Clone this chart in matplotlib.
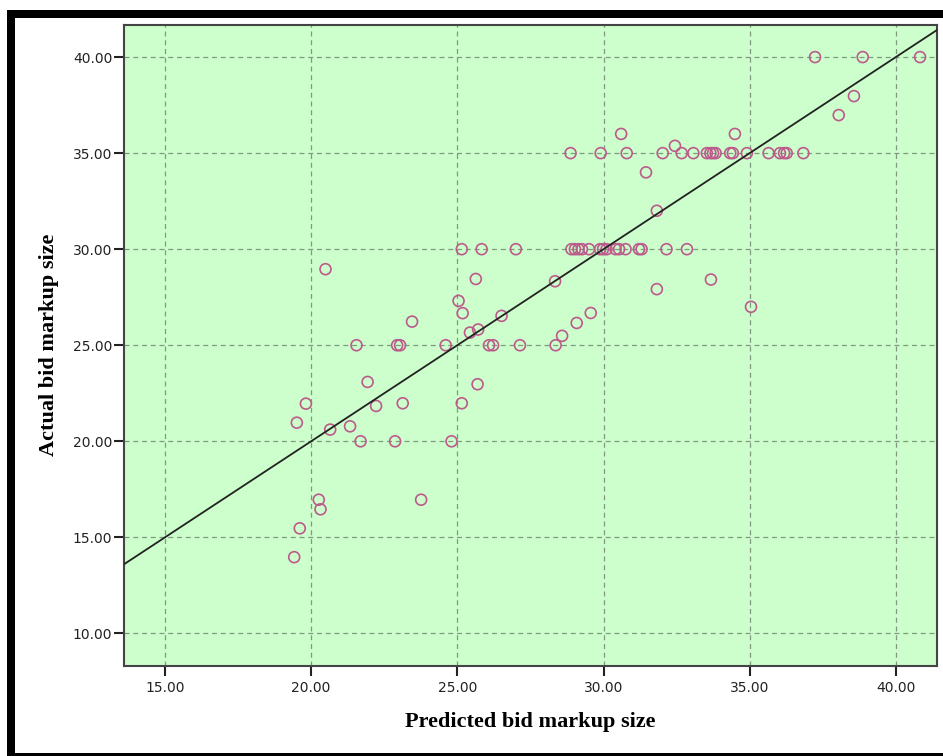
import numpy as np
import matplotlib
matplotlib.use("Agg")
import matplotlib.pyplot as plt
from matplotlib.patches import Rectangle

# predicted (x) vs actual (y) bid markup
row40_x = [37.23, 38.86, 40.82]
row35_x = [28.87, 29.90, 30.79, 32.02, 32.67, 33.07, 33.53, 33.65, 33.74, 33.83,
           34.33, 34.42, 34.90, 35.64, 36.03, 36.17, 36.26, 36.83]
row30_x = [25.15, 25.83, 27.00, 28.90, 29.02, 29.14, 29.26, 29.50, 29.88, 29.98,
           30.10, 30.41, 30.53, 30.75, 31.21, 31.30, 32.15, 32.85]
row25_x = [21.55, 22.94, 23.04, 24.60, 26.08, 26.22, 27.14, 28.36]
row20_x = [21.69, 22.87, 24.80]

other_x = [38.56, 38.04, 30.60, 34.49, 32.44, 31.45, 31.82,
           20.49, 25.63, 28.34, 31.82, 33.67, 35.04,
           25.04, 25.18, 23.45, 26.51, 25.43, 25.71, 29.56, 29.08, 28.58,
           25.69, 23.13, 25.15, 21.93, 19.82, 22.22, 19.51, 20.65, 21.33,
           20.26, 20.32, 23.76, 19.61, 19.42]
other_y = [37.97, 36.98, 36.00, 36.00, 35.38, 34.00, 32.00,
           28.96, 28.45, 28.33, 27.92, 28.42, 27.00,
           27.31, 26.67, 26.23, 26.53, 25.66, 25.82, 26.68, 26.16, 25.49,
           22.97, 21.98, 21.98, 23.09, 21.96, 21.84, 20.97, 20.61, 20.78,
           16.96, 16.46, 16.96, 15.47, 13.97]

x_ticks = [15, 20, 25, 30, 35, 40]
y_ticks = [10, 15, 20, 25, 30, 35, 40]

predicted = np.array(row40_x + row35_x + row30_x + row25_x + row20_x + other_x)
actual = np.array([40.0] * len(row40_x) + [35.0] * len(row35_x) + [30.0] * len(row30_x)
                  + [25.0] * len(row25_x) + [20.0] * len(row20_x) + other_y)

W, H = 943, 756
fig = plt.figure(figsize=(W / 100, H / 100), dpi=100)
fig.patch.set_facecolor("white")

# black frame (thick top/left, thin bottom)
fig.add_artist(Rectangle((7 / W, 0), 8 / W, (H - 10) / H, transform=fig.transFigure,
                         color="black", lw=0))
fig.add_artist(Rectangle((7 / W, (H - 18) / H), 1 - 7 / W, 8 / H, transform=fig.transFigure,
                         color="black", lw=0))
fig.add_artist(Rectangle((7 / W, 0), 1 - 7 / W, 3 / H, transform=fig.transFigure,
                         color="black", lw=0))

ax = fig.add_axes([124 / W, (H - 665.5) / H, (937 - 124) / W, (665.5 - 25) / H])
ax.set_facecolor("#ccffcc")
ax.set_xlim(13.6, 41.4)
ax.set_ylim(8.33, 41.67)

ax.grid(True, color="#7f9a7f", ls=(0, (4, 3)), lw=0.9)
ax.set_axisbelow(True)

ax.scatter(predicted, actual, s=62, facecolors="none", edgecolors="#bd5a8c",
           linewidths=1.2, zorder=3)

# least-squares fit line of actual on predicted
slope, icpt = np.polyfit(predicted, actual, 1)
ax.axline((0, icpt), slope=slope, color="#222222", lw=1.3, zorder=4)

ax.set_xticks(x_ticks)
ax.set_yticks(y_ticks)
ax.set_xticklabels([f"{v:.2f}" for v in x_ticks])
ax.set_yticklabels([f"{v:.2f}" for v in y_ticks])
ax.tick_params(axis="x", direction="out", length=7.5, width=1.5, color="#222222",
               pad=4, labelsize=10)
ax.tick_params(axis="y", direction="out", length=7.5, width=1.5, color="#222222",
               pad=1, labelsize=10)
for lab in ax.get_xticklabels() + ax.get_yticklabels():
    lab.set_family("DejaVu Sans")
    lab.set_color("#222222")

for sp in ax.spines.values():
    sp.set_color("#444444")
    sp.set_linewidth(1.5)

ax.set_xlabel("Predicted bid markup size", family="Liberation Serif", weight="bold",
              fontsize=16, labelpad=12)
ax.set_ylabel("Actual bid markup size", family="Liberation Serif", weight="bold",
              fontsize=16, labelpad=10)

fig.savefig("out.png", dpi=100)
